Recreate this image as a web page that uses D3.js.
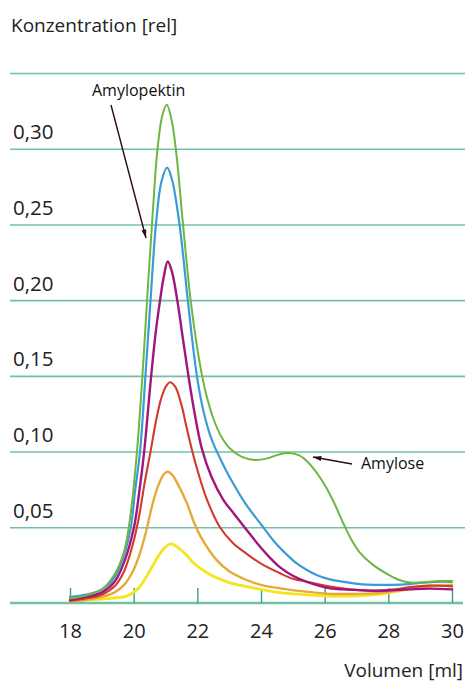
<!DOCTYPE html>
<html>
<head>
<meta charset="utf-8">
<script src="https://cdn.jsdelivr.net/npm/d3@7"></script>
<style>
  html, body { margin: 0; padding: 0; background: #fff; }
  svg { display: block; font-family: "Open Sans", "Noto Sans", sans-serif; }
</style>
</head>
<body>
<svg id="chart" width="465" height="682"></svg>
<script>
// Elution volume (ml) and relative concentration, one array of [ml, conc] per trace
const traceGreen = [
  [18.0,0.003],[18.5,0.005],[19.0,0.009],[19.4,0.019],[19.7,0.034],[19.9,0.058],
  [20.1,0.099],[20.3,0.158],[20.45,0.21],[20.6,0.258],[20.75,0.30],[20.9,0.322],
  [21.04,0.329],[21.2,0.318],[21.35,0.295],[21.55,0.25],[21.8,0.198],[22.0,0.168],
  [22.15,0.150],[22.3,0.136],[22.5,0.122],[22.75,0.110],[23.05,0.1015],[23.4,0.0965],
  [23.8,0.0945],[24.2,0.0955],[24.55,0.098],[24.85,0.099],[25.2,0.0975],[25.5,0.0925],
  [25.8,0.0845],[26.07,0.0755],[26.3,0.066],[26.6,0.052],[26.85,0.0415],[27.1,0.0335],
  [27.5,0.0255],[27.93,0.0195],[28.3,0.0155],[28.68,0.0135],[29.2,0.0138],[29.6,0.0145],
  [30.0,0.0145]
];
const traceBlue = [
  [18.0,0.004],[18.5,0.0055],[19.0,0.009],[19.4,0.017],[19.7,0.032],[19.91,0.05],
  [20.05,0.075],[20.2,0.10],[20.37,0.15],[20.53,0.20],[20.7,0.25],[20.87,0.278],
  [21.05,0.2875],[21.2,0.280],[21.44,0.25],[21.7,0.20],[21.85,0.172],[22.0,0.148],
  [22.2,0.126],[22.45,0.108],[22.75,0.094],[23.03,0.0825],[23.5,0.066],[24.07,0.050],
  [24.4,0.041],[24.81,0.032],[25.1,0.0265],[25.44,0.0218],[25.8,0.018],[26.17,0.0156],
  [26.6,0.014],[27.1,0.0125],[27.6,0.012],[28.0,0.012],[28.5,0.0123],[29.1,0.0134],
  [29.5,0.014],[30.0,0.014]
];
const tracePurple = [
  [18.0,0.002],[18.5,0.004],[19.0,0.007],[19.4,0.014],[19.7,0.027],[20.01,0.05],
  [20.18,0.074],[20.33,0.10],[20.55,0.15],[20.7,0.18],[20.83,0.20],[20.95,0.216],
  [21.07,0.2255],[21.2,0.219],[21.37,0.20],[21.55,0.174],[21.72,0.15],[21.9,0.127],
  [22.14,0.102],[22.45,0.083],[22.82,0.068],[23.15,0.059],[23.5,0.0495],[23.9,0.039],
  [24.3,0.0295],[24.6,0.0235],[25.0,0.018],[25.44,0.014],[26.17,0.0097],[26.6,0.009],
  [27.1,0.0085],[27.64,0.0081],[28.2,0.0085],[28.68,0.009],[29.3,0.0095],[30.0,0.009]
];
const traceRed = [
  [18.0,0.0015],[18.5,0.003],[19.0,0.0055],[19.4,0.011],[19.7,0.021],[19.95,0.037],
  [20.15,0.055],[20.35,0.08],[20.53,0.10],[20.7,0.12],[20.85,0.134],[21.0,0.1425],
  [21.14,0.1458],[21.3,0.143],[21.5,0.131],[21.65,0.117],[21.82,0.102],[22.0,0.088],
  [22.29,0.069],[22.71,0.050],[23.1,0.040],[23.55,0.0325],[24.0,0.026],[24.6,0.0196],
  [25.0,0.016],[25.44,0.014],[26.17,0.0108],[26.6,0.0095],[27.1,0.0085],[27.64,0.0081],
  [28.2,0.009],[28.68,0.0105],[29.3,0.0115],[30.0,0.011]
];
const traceOrange = [
  [18.0,0.001],[18.5,0.002],[19.0,0.004],[19.4,0.007],[19.7,0.012],[20.0,0.022],
  [20.2,0.033],[20.4,0.048],[20.6,0.066],[20.8,0.079],[20.95,0.085],[21.06,0.0867],
  [21.2,0.085],[21.4,0.078],[21.67,0.066],[21.9,0.053],[22.1,0.044],[22.4,0.034],
  [22.6,0.0285],[23.0,0.021],[23.55,0.0152],[24.0,0.012],[24.6,0.0097],[25.4,0.0075],
  [26.17,0.006],[26.6,0.006],[27.1,0.006],[27.6,0.0065],[28.2,0.008],[28.7,0.0095],
  [29.3,0.011],[30.0,0.012]
];
const traceYellow = [
  [18.0,0.0015],[18.5,0.002],[19.0,0.0025],[19.5,0.0035],[19.78,0.0045],[20.0,0.007],
  [20.2,0.011],[20.5,0.021],[20.83,0.0328],[21.0,0.037],[21.16,0.039],[21.3,0.038],
  [21.46,0.0355],[21.67,0.0315],[21.85,0.027],[22.05,0.0235],[22.3,0.020],[22.5,0.0176],
  [23.0,0.0135],[23.55,0.0108],[24.0,0.009],[24.6,0.0068],[25.4,0.0055],[26.17,0.0046],
  [26.6,0.0045],[27.1,0.0048],[27.6,0.0055],[28.2,0.0075],[28.7,0.0095],[29.3,0.0115],
  [30.0,0.012]
];

const volumeTicks = [18, 20, 22, 24, 26, 28, 30];
const concTicks = [0.05, 0.10, 0.15, 0.20, 0.25, 0.30, 0.35];
const labelY = "Konzentration [rel]";
const labelX = "Volumen [ml]";
const noteAmylopektin = "Amylopektin";
const noteAmylose = "Amylose";

// drawing order: back to front
const traces = [
  { data: traceYellow, color: "#f4e51c", width: 2.8 },
  { data: traceOrange, color: "#e7a93c", width: 2.4 },
  { data: traceRed,    color: "#d13b2f", width: 2.1 },
  { data: tracePurple, color: "#a1167c", width: 2.4 },
  { data: traceBlue,   color: "#3b9bd8", width: 2.2 },
  { data: traceGreen,  color: "#6db641", width: 2.0 }
];

const svg = d3.select("#chart");
const x = d3.scaleLinear().domain([18, 30]).range([70, 452]);
const y = d3.scaleLinear().domain([0, 0.35]).range([603, 73]);

const de = d3.formatLocale({ decimal: ",", thousands: ".", grouping: [3], currency: ["", "€"] });
const fmt = de.format(".2f");

const gridColor = "#72c0a6";
const textColor = "#222";

// horizontal grid lines with labels sitting on top of them
const yAxis = d3.axisRight(y)
  .tickValues(concTicks)
  .tickSize(455)
  .tickFormat(d => d > 0.34 ? "" : fmt(d));
const gy = svg.append("g").attr("transform", "translate(10,0)").call(yAxis);
gy.select(".domain").remove();
gy.selectAll(".tick line").attr("stroke", gridColor).attr("stroke-width", 1.6);
gy.selectAll(".tick text")
  .attr("x", 3).attr("dy", -10)
  .attr("text-anchor", "start")
  .attr("fill", textColor)
  .style("font-size", "20.5px")
  .style("font-family", "'Open Sans', sans-serif");

// baseline
svg.append("line")
  .attr("x1", 10).attr("x2", 463)
  .attr("y1", y(0)).attr("y2", y(0))
  .attr("stroke", gridColor).attr("stroke-width", 2.6);

// x axis ticks pointing up, labels below
const xAxis = d3.axisBottom(x).tickValues(volumeTicks).tickSize(-15).tickPadding(21);
const gx = svg.append("g").attr("transform", `translate(0,${y(0)})`).call(xAxis);
gx.select(".domain").remove();
gx.selectAll(".tick line").attr("stroke", "#3f9c80").attr("stroke-width", 1.4);
gx.selectAll(".tick text")
  .attr("fill", textColor)
  .style("font-size", "20px")
  .style("font-family", "'Open Sans', sans-serif");

// traces
const line = d3.line()
  .x(d => x(d[0]))
  .y(d => y(d[1]))
  .curve(d3.curveCatmullRom.alpha(0.5));

svg.append("g").selectAll("path")
  .data(traces)
  .join("path")
  .attr("d", d => line(d.data))
  .attr("fill", "none")
  .attr("stroke", d => d.color)
  .attr("stroke-width", d => d.width)
  .attr("stroke-linejoin", "round")
  .attr("stroke-linecap", "round");

// axis titles
svg.append("text")
  .attr("x", 11).attr("y", 32)
  .attr("fill", textColor)
  .style("font-size", "19px")
  .text(labelY);
svg.append("text")
  .attr("x", 463).attr("y", 677)
  .attr("text-anchor", "end")
  .attr("fill", textColor)
  .style("font-size", "19px")
  .text(labelX);

// annotations with arrows
const defs = svg.append("defs");
defs.append("marker")
  .attr("id", "arrowhead")
  .attr("viewBox", "0 0 10 6")
  .attr("refX", 10).attr("refY", 3)
  .attr("markerWidth", 9).attr("markerHeight", 5)
  .attr("markerUnits", "userSpaceOnUse")
  .attr("orient", "auto")
  .append("path")
  .attr("d", "M0,0 L10,3 L0,6 Z")
  .attr("fill", "#2a0c12");

svg.append("text")
  .attr("x", 92).attr("y", 96)
  .attr("fill", "#111")
  .style("font-size", "16px")
  .text(noteAmylopektin);
svg.append("line")
  .attr("x1", 111).attr("y1", 105)
  .attr("x2", 146).attr("y2", 238)
  .attr("stroke", "#2a0c12").attr("stroke-width", 1.4)
  .attr("marker-end", "url(#arrowhead)");

svg.append("text")
  .attr("x", 361).attr("y", 469)
  .attr("fill", "#111")
  .style("font-size", "16px")
  .text(noteAmylose);
svg.append("line")
  .attr("x1", 352).attr("y1", 464)
  .attr("x2", 313).attr("y2", 457)
  .attr("stroke", "#2a0c12").attr("stroke-width", 1.4)
  .attr("marker-end", "url(#arrowhead)");
</script>
</body>
</html>
